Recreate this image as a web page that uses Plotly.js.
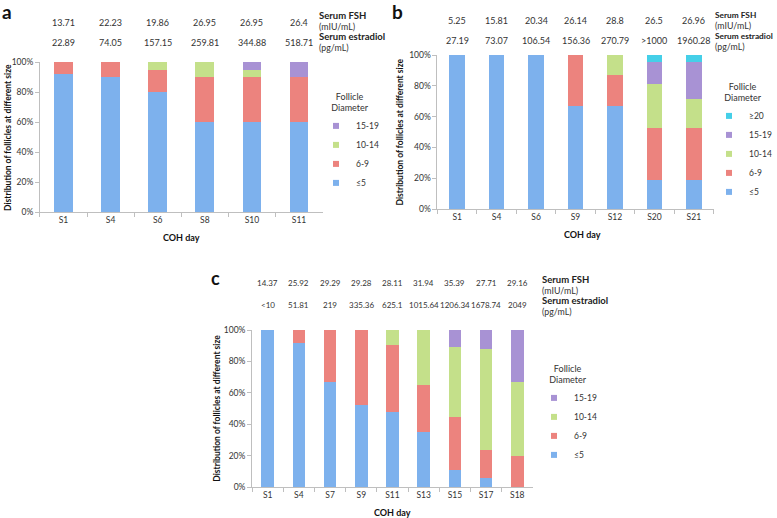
<!DOCTYPE html>
<html><head><meta charset="utf-8">
<script src="https://cdn.plot.ly/plotly-3.0.1.min.js"></script>
<style>html,body{margin:0;padding:0;background:#fff}#chart{width:777px;height:518px}</style>
</head><body><div id="chart"></div>
<script>
// ---- Data ----
const sizeLabels = ['≤5','6-9','10-14','15-19','≥20'];

const aDays = ['S1','S4','S6','S8','S10','S11'];
const aFSH = ['13.71','22.23','19.86','26.95','26.95','26.4'];
const aE2 = ['22.89','74.05','157.15','259.81','344.88','518.71'];
const aLe5 = [92,90,80,60,60,60];
const a6to9 = [8,10,15,30,30,30];
const a10to14 = [0,0,5,10,5,0];
const a15to19 = [0,0,0,0,5,10];

const bDays = ['S1','S4','S6','S9','S12','S20','S21'];
const bFSH = ['5.25','15.81','20.34','26.14','28.8','26.5','26.96'];
const bE2 = ['27.19','73.07','106.54','156.36','270.79','>1000','1960.28'];
const bLe5 = [100,100,100,67,67,19,19];
const b6to9 = [0,0,0,33,20,33.5,33.5];
const b10to14 = [0,0,0,0,13,28.5,19];
const b15to19 = [0,0,0,0,0,14.7,24.2];
const bGe20 = [0,0,0,0,0,4.3,4.3];

const cDays = ['S1','S4','S7','S9','S11','S13','S15','S17','S18'];
const cFSH = ['14.37','25.92','29.29','29.28','28.11','31.94','35.39','27.71','29.16'];
const cE2 = ['<10','51.81','219','335.36','625.1','1015.64','1206.34','1678.74','2049'];
const cLe5 = [100,91.5,66.7,52.4,47.6,35,11.1,5.9,0];
const c6to9 = [0,8.5,33.3,47.6,42.9,30,33.3,17.6,20];
const c10to14 = [0,0,0,0,9.5,35,44.5,64.7,46.7];
const c15to19 = [0,0,0,0,0,0,11.1,11.8,33.3];

// ---- Style ----
const W = 777, H = 518;
const px = v => v / W, py = v => 1 - v / H;
const colors = ['#7db1ed','#ec837e','#c4e08a','#a892d4','#45cfe8'];
const FONT = 'Lato, "Open Sans", sans-serif';
const txt = '#333';

const traces = [];
function addPanel(days, series, xa, ya, leg) {
  series.forEach((vals, i) => {
    traces.push({
      type: 'bar', x: days, y: vals.map(v => v === 0 ? null : v),
      name: sizeLabels[i], xaxis: xa, yaxis: ya, showlegend: false,
      marker: {color: colors[i], line: {width: 0}},
      hoverinfo: 'x+y+name'
    });
    // legend entry with a small square swatch
    traces.push({
      type: 'scatter', mode: 'markers', x: [null], y: [null], xaxis: xa, yaxis: ya,
      name: sizeLabels[i], legend: leg, showlegend: true, hoverinfo: 'skip',
      marker: {symbol: 'square', size: 6, color: colors[i]}
    });
  });
}
addPanel(aDays, [aLe5, a6to9, a10to14, a15to19], 'x', 'y', 'legend');
addPanel(bDays, [bLe5, b6to9, b10to14, b15to19, bGe20], 'x2', 'y2', 'legend2');
addPanel(cDays, [cLe5, c6to9, c10to14, c15to19], 'x3', 'y3', 'legend3');

function xaxis(l, r, anchor) {
  return {domain: [px(l), px(r)], type: 'category', tickson: 'boundaries', anchor: anchor,
    ticks: 'outside', ticklen: 4, tickcolor: '#bfbfbf', showline: true, linecolor: '#bfbfbf',
    linewidth: 1, showgrid: false, zeroline: false, fixedrange: true,
    tickfont: {family: FONT, size: 8.5, color: txt}};
}
function yaxis(t, b, anchor) {
  return {domain: [py(b), py(t)], range: [0, 100], dtick: 20, ticksuffix: '%',
    ticks: 'outside', ticklen: 4, tickcolor: '#bfbfbf', showline: true, linecolor: '#bfbfbf',
    showgrid: false, zeroline: false, anchor: anchor, fixedrange: true,
    tickfont: {family: FONT, size: 8.5, color: txt}};
}

const ann = [];
function note(text, x, y, opts) {
  ann.push(Object.assign({text: text, x: px(x), y: py(y), xref: 'paper', yref: 'paper',
    showarrow: false, borderpad: 0, font: {family: FONT, size: 8.5, color: txt},
    xanchor: 'center', yanchor: 'middle'}, opts || {}));
}
function panelText(days, fsh, e2, xref, yF, yE, labX, labY, size, bsize) {
  days.forEach((d, i) => {
    ann.push({text: fsh[i], x: d, xref: xref, y: py(yF), yref: 'paper', showarrow: false,
      borderpad: 0, font: {family: FONT, size: size, color: txt}, yanchor: 'middle'});
    ann.push({text: e2[i], x: d, xref: xref, y: py(yE), yref: 'paper', showarrow: false,
      borderpad: 0, font: {family: FONT, size: size, color: txt}, yanchor: 'middle'});
  });
  const bf = {family: FONT, size: bsize, color: '#222'};
  const nf = {family: FONT, size: 8.8, color: txt};
  note('<b>Serum FSH</b>', labX, labY - 0.5, {xanchor: 'left', font: bf});
  note('(mIU/mL)', labX, labY + 10, {xanchor: 'left', font: nf});
  note('<b>Serum estradiol</b>', labX, labY + 20.5, {xanchor: 'left', font: bf});
  note('(pg/mL)', labX, labY + 31, {xanchor: 'left', font: nf});
}
panelText(aDays, aFSH, aE2, 'x', 22, 43, 318, 16, 9, 9.5);
panelText(bDays, bFSH, bE2, 'x2', 20, 41, 715, 15, 9, 8.3);
panelText(cDays, cFSH, cE2, 'x3', 283, 305, 542, 280, 8, 9.5);

// panel letters
note('<b>a</b>', 1, 12, {xanchor: 'left', font: {family: FONT, size: 19, color: '#111'}});
note('<b>b</b>', 392, 12, {xanchor: 'left', font: {family: FONT, size: 19, color: '#111'}});
note('<b>c</b>', 210, 278, {xanchor: 'left', font: {family: FONT, size: 18, color: '#111'}});

// axis titles
const yt = 'Distribution of follicles at different size';
const tf = {family: FONT, size: 8.5, color: '#111'};
note('<b>' + yt + '</b>', 8, 137, {textangle: -90, font: tf});
note('<b>' + yt + '</b>', 401, 132, {textangle: -90, font: tf});
note('<b>' + yt + '</b>', 217, 408, {textangle: -90, font: tf});
note('<b>COH day</b>', 182, 238, {font: {family: FONT, size: 9, color: '#111'}});
note('<b>COH day</b>', 583, 234, {font: {family: FONT, size: 9, color: '#111'}});
note('<b>COH day</b>', 393, 512, {font: {family: FONT, size: 9, color: '#111'}});

function legend(x, y) {
  return {x: px(x), y: py(y), xanchor: 'left', yanchor: 'top', traceorder: 'reversed',
    bgcolor: 'rgba(0,0,0,0)', itemwidth: 30, tracegroupgap: 0,
    font: {family: FONT, size: 8.5, color: txt},
    title: {text: '&nbsp;&nbsp;Follicle<br>Diameter', side: 'top center',
      font: {family: FONT, size: 9, color: txt}}};
}

const layout = {
  width: W, height: H, margin: {l: 0, r: 0, t: 0, b: 0},
  paper_bgcolor: '#fff', plot_bgcolor: '#fff',
  barmode: 'stack', bargap: 0.6, showlegend: true,
  font: {family: FONT},
  xaxis: xaxis(40, 323, 'y'), yaxis: yaxis(62, 212, 'x'),
  xaxis2: xaxis(438, 714.5, 'y2'), yaxis2: yaxis(55, 209, 'x2'),
  xaxis3: xaxis(252.4, 533.6, 'y3'), yaxis3: yaxis(330, 487, 'x3'),
  legend: legend(316, 88),
  legend2: legend(710, 78),
  legend3: legend(534, 360),
  annotations: ann
};
Plotly.newPlot('chart', traces, layout, {displayModeBar: false, staticPlot: true});
</script></body></html>
